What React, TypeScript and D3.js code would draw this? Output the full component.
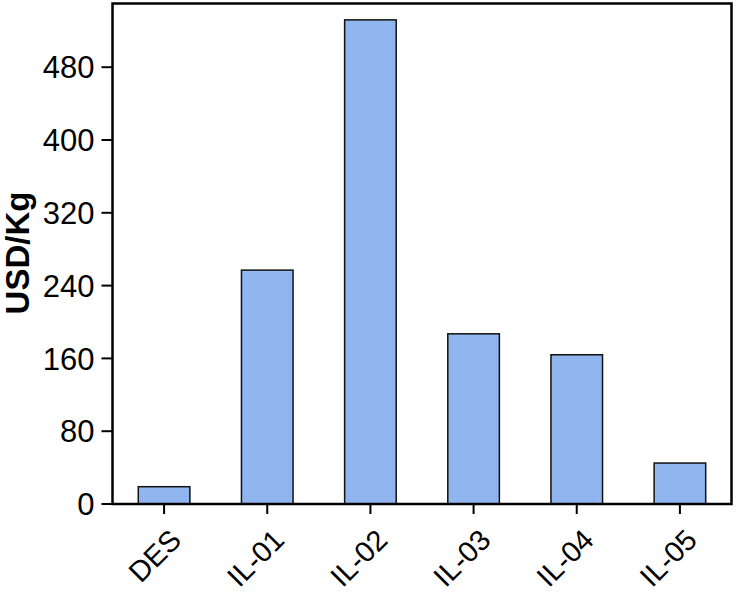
import React from "react";
import * as d3 from "d3";

const categories = ["DES", "IL-01", "IL-02", "IL-03", "IL-04", "IL-05"];
const values = [19, 257, 532, 187, 164, 45];
const yTicks = [0, 80, 160, 240, 320, 400, 480];

export default function App() {
  const W = 738, H = 593;
  const left = 112.5, right = 731.5, top = 3.5, bottom = 504;
  const x = d3.scaleBand<string>().domain(categories).range([left, right]).paddingInner(0.5).paddingOuter(0.25);
  const y = d3.scaleLinear().domain([0, 550]).range([bottom, top]);
  const font = "Liberation Sans, Arial, sans-serif";
  return (
    <svg width={W} height={H} style={{ position: "absolute", left: 0, top: 0 }} fontFamily={font}>
      <defs>
        <pattern id="dots" width="2" height="2" patternUnits="userSpaceOnUse">
          <rect width="2" height="2" fill="#94B8F0" />
          <rect width="1" height="1" fill="#86AAE6" />
        </pattern>
      </defs>
      <rect x={0} y={0} width={W} height={H} fill="#fff" />
      {categories.map((c, i) => (
        <rect key={c} x={x(c)} y={y(values[i])} width={x.bandwidth()} height={bottom - y(values[i])}
          fill="url(#dots)" stroke="#111" strokeWidth={1.5} />
      ))}
      <rect x={left} y={top} width={right - left} height={bottom - top} fill="none" stroke="#000" strokeWidth={2.5} />
      {yTicks.map(t => (
        <g key={t}>
          <line x1={left - 11} x2={left} y1={y(t)} y2={y(t)} stroke="#000" strokeWidth={2} />
          <text x={left - 18} y={y(t)} dy="0.36em" textAnchor="end" fontSize={31} fill="#000">{t}</text>
        </g>
      ))}
      {categories.map(c => {
        const cx = x(c)! + x.bandwidth() / 2;
        return (
          <g key={c}>
            <line x1={cx} x2={cx} y1={bottom} y2={bottom + 10} stroke="#000" strokeWidth={2} />
            <text transform={`translate(${cx + 4},${bottom + 23}) rotate(-45)`} textAnchor="end" dy="0.72em" fontSize={29} fill="#000">{c}</text>
          </g>
        );
      })}
      <text transform={`translate(29,${(188 + 318) / 2}) rotate(-90)`} textAnchor="middle" fontSize={33} fontWeight="bold" fill="#000">USD/Kg</text>
    </svg>
  );
}
